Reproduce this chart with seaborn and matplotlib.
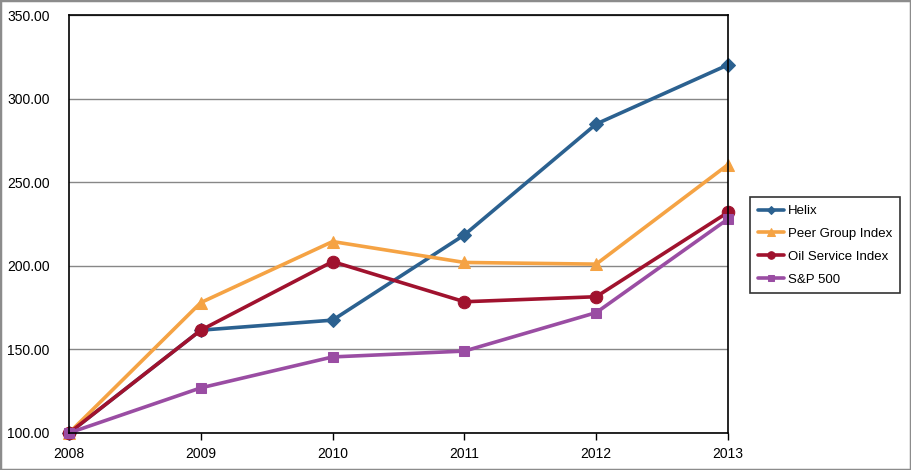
import matplotlib
matplotlib.use("Agg")
import matplotlib.pyplot as plt
import pandas as pd
import seaborn as sns
from matplotlib.patches import Rectangle

years = [2008, 2009, 2010, 2011, 2012, 2013]
helix = [100.0, 161.5, 167.5, 218.5, 284.8, 320.2]
peer_group = [100.0, 178.0, 214.5, 202.0, 201.0, 260.5]
oil_service = [100.0, 161.5, 202.5, 178.5, 181.5, 232.0]
sp500 = [100.0, 127.0, 145.5, 149.0, 172.0, 228.0]

series_names = ["Helix", "Peer Group Index", "Oil Service Index", "S&P 500"]
series_values = [helix, peer_group, oil_service, sp500]
colors = ["#2B6190", "#F5A344", "#A0122E", "#9A4DA3"]
markers = ["D", "^", "o", "s"]
msizes = [7, 8.5, 9, 7.5]

sns.set_theme(style="white")
plt.rcParams["font.family"] = ["Liberation Sans", "DejaVu Sans"]

fig = plt.figure(figsize=(9.11, 4.70), dpi=100)
ax = fig.add_axes([69 / 911, 37 / 470, (728 - 69) / 911, (433 - 15) / 470])

frames = []
for name, vals in zip(series_names, series_values):
    frames.append(pd.DataFrame({"year": years, "value": vals, "series": name}))
df = pd.concat(frames, ignore_index=True)

for name, c, m, ms in zip(series_names, colors, markers, msizes):
    sub = df[df["series"] == name]
    sns.lineplot(data=sub, x="year", y="value", ax=ax, color=c, linewidth=2.6,
                 marker=m, markersize=ms, markeredgecolor=c, label=name,
                 clip_on=False)

ax.set_xlim(2008, 2013)
ax.set_ylim(100, 350)
ax.set_xticks(years)
ax.set_xticklabels([str(y) for y in years])
ax.set_yticks(range(100, 351, 50))
ax.set_yticklabels([f"{v:.2f}" for v in range(100, 351, 50)])
ax.yaxis.grid(True, color="#878787", linewidth=1)
ax.xaxis.grid(False)
ax.set_axisbelow(True)
ax.set_xlabel("")
ax.set_ylabel("")
for sp in ax.spines.values():
    sp.set_color("black")
    sp.set_linewidth(1.2)
ax.tick_params(axis="x", bottom=True, length=5, width=1, color="black",
               labelsize=10, pad=5, labelcolor="black")
ax.tick_params(axis="y", left=False, length=0, labelsize=10, pad=14,
               labelcolor="black")

ax.get_legend().remove()
handles, labels = ax.get_legend_handles_labels()
leg = fig.legend(handles, labels, loc="upper left",
                 bbox_to_anchor=(750 / 911, 1 - 197 / 470),
                 frameon=True, fancybox=False, fontsize=9.5,
                 handlelength=2.0, handletextpad=0.25, borderpad=0.6,
                 borderaxespad=0, labelspacing=0.8, markerscale=0.6)
leg.get_frame().set_edgecolor("black")
leg.get_frame().set_linewidth(1.2)
for t in leg.get_texts():
    t.set_color("black")

fig.patches.append(Rectangle((0, 0), 1, 1, transform=fig.transFigure,
                             fill=False, edgecolor="#8C8C8C", linewidth=2.5))

fig.savefig("out.png", dpi=100)
